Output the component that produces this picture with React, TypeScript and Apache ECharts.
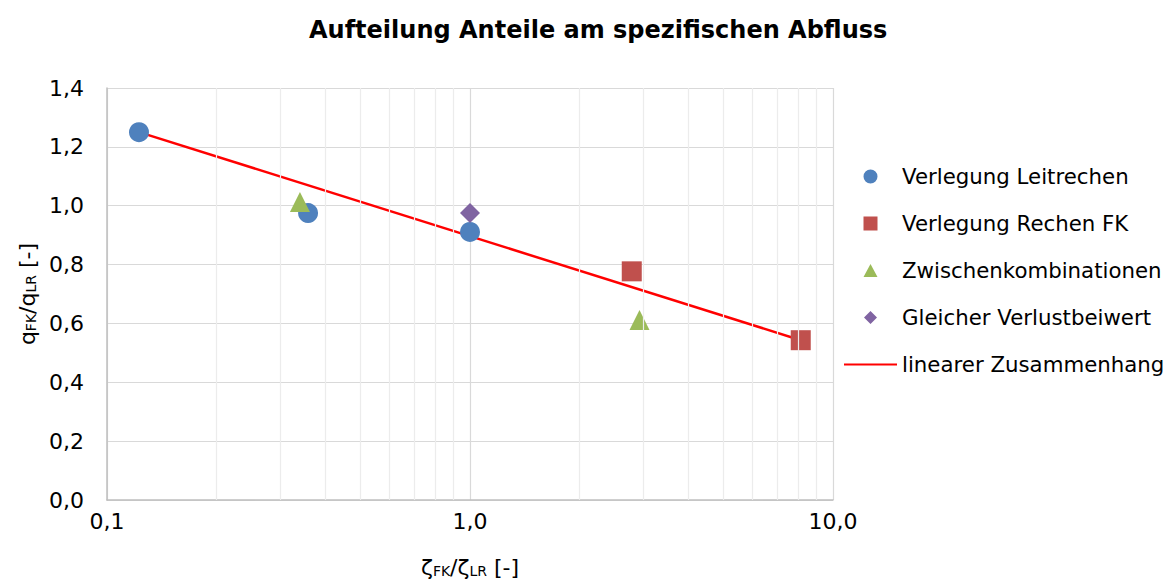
import React, { useEffect, useRef } from "react";
import * as echarts from "echarts";

const FONT = "DejaVu Sans";

const titleText = "Aufteilung Anteile am spezifischen Abfluss";
const seriesNames = [
  "Verlegung Leitrechen",
  "Verlegung Rechen FK",
  "Zwischenkombinationen",
  "Gleicher Verlustbeiwert",
  "linearer Zusammenhang",
];

const leitX = [0.1225, 0.358, 1.0];
const leitY = [1.25, 0.975, 0.911];
const rechenX = [2.79, 8.15];
const rechenY = [0.777, 0.543];
const zwischenX = [0.34, 2.93];
const zwischenY = [1.013, 0.612];
const gleichX = [1.0];
const gleichY = [0.975];
const lineX = [0.1225, 8.15];
const lineY = [1.25, 0.543];

const minorGridX = [0.2, 0.3, 0.4, 0.5, 0.6, 0.7, 0.8, 0.9, 2, 3, 4, 5, 6, 7, 8, 9];

const xMin = 0.1;
const xMax = 10;
const yMin = 0;
const yMax = 1.4;
const yStep = 0.2;

const zip = (xs: number[], ys: number[]) => xs.map((x, i) => [x, ys[i]]);
const fmt = (v: number) => v.toFixed(1).replace(".", ",");

// legend icons drawn in a 53x14 box (corner specks fix the bounding box)
const BOX = "M0,0L0.01,0Z M53,14L52.99,14Z ";
const iconCircle = "path://" + BOX + "M19.5,7 A7,7 0 1,0 33.5,7 A7,7 0 1,0 19.5,7 Z";
const iconSquare = "path://" + BOX + "M19.5,0 L33.5,0 L33.5,14 L19.5,14 Z";
const iconTriangle = "path://" + BOX + "M26.5,0.5 L33.5,13.5 L19.5,13.5 Z";
const iconDiamond = "path://" + BOX + "M26.5,0.5 L33,7 L26.5,13.5 L20,7 Z";

export default function App() {
  const ref = useRef<HTMLDivElement>(null);
  useEffect(() => {
    if (!ref.current) return;
    const chart = echarts.init(ref.current, null, { renderer: "svg" });
    const rich = {
      m: { fontFamily: FONT, fontSize: 22, color: "#000", lineHeight: 22 },
      s: {
        fontFamily: FONT,
        fontSize: 14,
        color: "#000",
        lineHeight: 14,
        verticalAlign: "bottom",
        padding: [10, 0, 0, 0],
      },
    };
    chart.setOption({
      animation: false,
      backgroundColor: "#fff",
      title: {
        text: titleText,
        left: 309,
        top: 18,
        padding: 0,
        textStyle: { fontFamily: FONT, fontSize: 24, fontWeight: "bold", color: "#000" },
      },
      grid: { left: 107, right: 338, top: 88, bottom: 82 },
      legend: {
        orient: "vertical",
        left: 843,
        top: 166,
        padding: 0,
        itemWidth: 53,
        itemHeight: 14,
        itemGap: 26,
        textStyle: { fontFamily: FONT, fontSize: 21.3, color: "#000" },
        data: [
          { name: seriesNames[0], icon: iconCircle },
          { name: seriesNames[1], icon: iconSquare },
          { name: seriesNames[2], icon: iconTriangle },
          { name: seriesNames[3], icon: iconDiamond },
          { name: seriesNames[4], itemStyle: { opacity: 0, color: "rgba(0,0,0,0)", borderWidth: 0 } },
        ],
        selectedMode: false,
      },
      xAxis: {
        type: "log",
        logBase: 10,
        min: xMin,
        max: xMax,
        name: "{m|ζ}{s|FK}{m|/ζ}{s|LR}{m| [-]}",
        nameLocation: "middle",
        nameGap: 56,
        nameTextStyle: { rich },
        axisLine: { show: true, lineStyle: { color: "#bfbfbf", width: 1.5 } },
        axisTick: { show: false },
        axisLabel: {
          margin: 10,
          fontFamily: FONT,
          fontSize: 22,
          color: "#000",
          formatter: (v: number) => fmt(v),
        },
        splitLine: { show: true, lineStyle: { color: "#d9d9d9", width: 1.2 } },
      },
      yAxis: {
        type: "value",
        min: yMin,
        max: yMax,
        interval: yStep,
        name: "{m|q}{s|FK}{m|/q}{s|LR}{m| [-]}",
        nameLocation: "middle",
        nameRotate: 90,
        nameGap: 62,
        nameTextStyle: { rich },
        axisLine: { show: true, lineStyle: { color: "#bfbfbf", width: 1.5 } },
        axisTick: { show: false },
        axisLabel: {
          margin: 23,
          fontFamily: FONT,
          fontSize: 22,
          color: "#000",
          formatter: (v: number) => fmt(v),
        },
        splitLine: { show: true, lineStyle: { color: "#d9d9d9", width: 1.2 } },
      },
      series: [
        {
          name: "minorGrid",
          type: "scatter",
          data: [],
          z: 1,
          silent: true,
          markLine: {
            silent: true,
            symbol: ["none", "none"],
            label: { show: false },
            lineStyle: { color: "#ececec", width: 1.2, type: "solid" },
            data: minorGridX.map((x) => ({ xAxis: x })),
          },
        },
        {
          name: seriesNames[4],
          type: "line",
          data: zip(lineX, lineY),
          symbol: "none",
          showSymbol: false,
          z: 2,
          lineStyle: { color: "#ff0000", width: 2.5 },
          itemStyle: { color: "#ff0000" },
        },
        {
          name: seriesNames[0],
          type: "scatter",
          symbol: "circle",
          symbolSize: 20,
          z: 3,
          itemStyle: { color: "#4f81bd", opacity: 1 },
          data: zip(leitX, leitY),
        },
        {
          name: seriesNames[1],
          type: "scatter",
          symbol: "rect",
          symbolSize: 20,
          z: 3,
          itemStyle: { color: "#c0504d", opacity: 1 },
          data: zip(rechenX, rechenY),
        },
        {
          name: seriesNames[2],
          type: "scatter",
          symbol: "triangle",
          symbolSize: 20,
          z: 3,
          itemStyle: { color: "#9bbb59", opacity: 1 },
          data: zip(zwischenX, zwischenY),
        },
        {
          name: seriesNames[3],
          type: "scatter",
          symbol: "diamond",
          symbolSize: 20,
          z: 3,
          itemStyle: { color: "#8064a2", opacity: 1 },
          data: zip(gleichX, gleichY),
        },
      ],
    });
    return () => chart.dispose();
  }, []);
  return (
    <div
      ref={ref}
      style={{ position: "fixed", left: 0, top: 0, width: 1171, height: 583 }}
    />
  );
}
